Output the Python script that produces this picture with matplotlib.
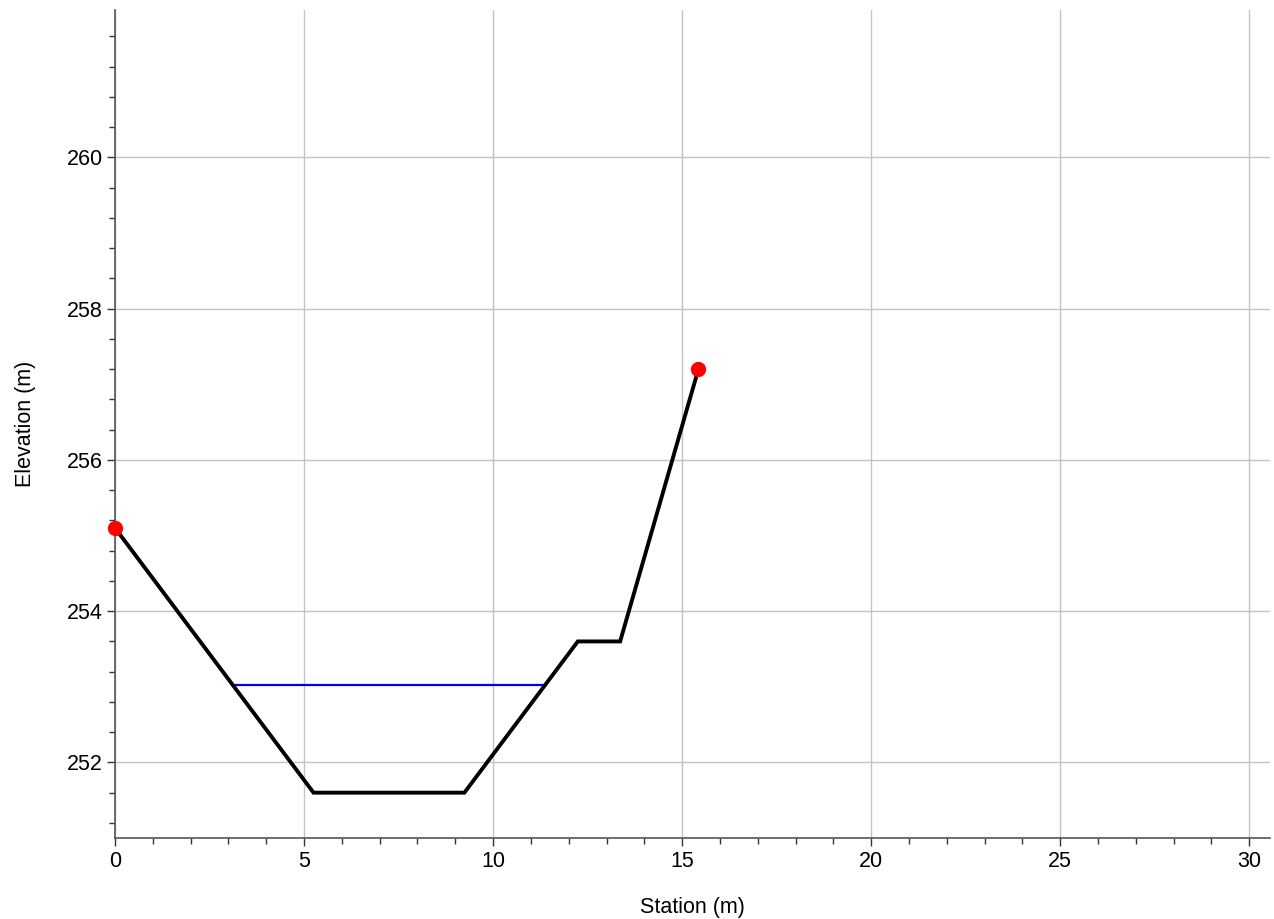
import numpy as np
import matplotlib.pyplot as plt
from matplotlib.ticker import MultipleLocator

plt.rcParams['font.family'] = ['Liberation Sans', 'DejaVu Sans']

# cross-section survey
station = [0.0, 5.25, 9.24, 12.24, 13.36, 15.43]
elevation = [255.1, 251.6, 251.6, 253.6, 253.6, 257.2]

# bank points
bank_station = [0.0, 15.43]
bank_elev = [255.1, 257.2]

# water surface
ws_station = [3.12, 11.36]
ws_elev = [253.02, 253.02]

fig = plt.figure(figsize=(12.74, 9.19), dpi=100, facecolor='white')
ax = fig.add_axes([0.0903, 0.0881, 0.9066, 0.901])

ax.plot(station, elevation, color='black', lw=2.8, zorder=3, solid_joinstyle='miter')
ax.plot(ws_station, ws_elev, color='#0000ee', lw=1.6, zorder=2)
ax.plot(bank_station, bank_elev, 'o', color='red', ms=10, zorder=4, clip_on=False)

ax.set_xlim(0, 30.55)
ax.set_ylim(251.0, 261.95)

ax.xaxis.set_major_locator(MultipleLocator(5))
ax.xaxis.set_minor_locator(MultipleLocator(1))
ax.yaxis.set_major_locator(MultipleLocator(2))
ax.yaxis.set_minor_locator(MultipleLocator(0.4))

ax.grid(True, which='major', color='#c4c4c4', lw=1)
ax.set_axisbelow(True)

for s in ['top', 'right']:
    ax.spines[s].set_visible(False)
for s in ['left', 'bottom']:
    ax.spines[s].set_color('#555555')
    ax.spines[s].set_linewidth(1.2)

ax.tick_params(which='major', direction='out', length=6, width=1, colors='#333333',
               labelsize=15.5, labelcolor='black', pad=3)
ax.tick_params(which='minor', direction='out', length=4, width=1, colors='#333333')

ax.set_xlabel('Station (m)', fontsize=15.5, labelpad=18)
ax.set_ylabel('Elevation (m)', fontsize=15.5, labelpad=22)

fig.savefig('out.png', dpi=100, facecolor='white')
